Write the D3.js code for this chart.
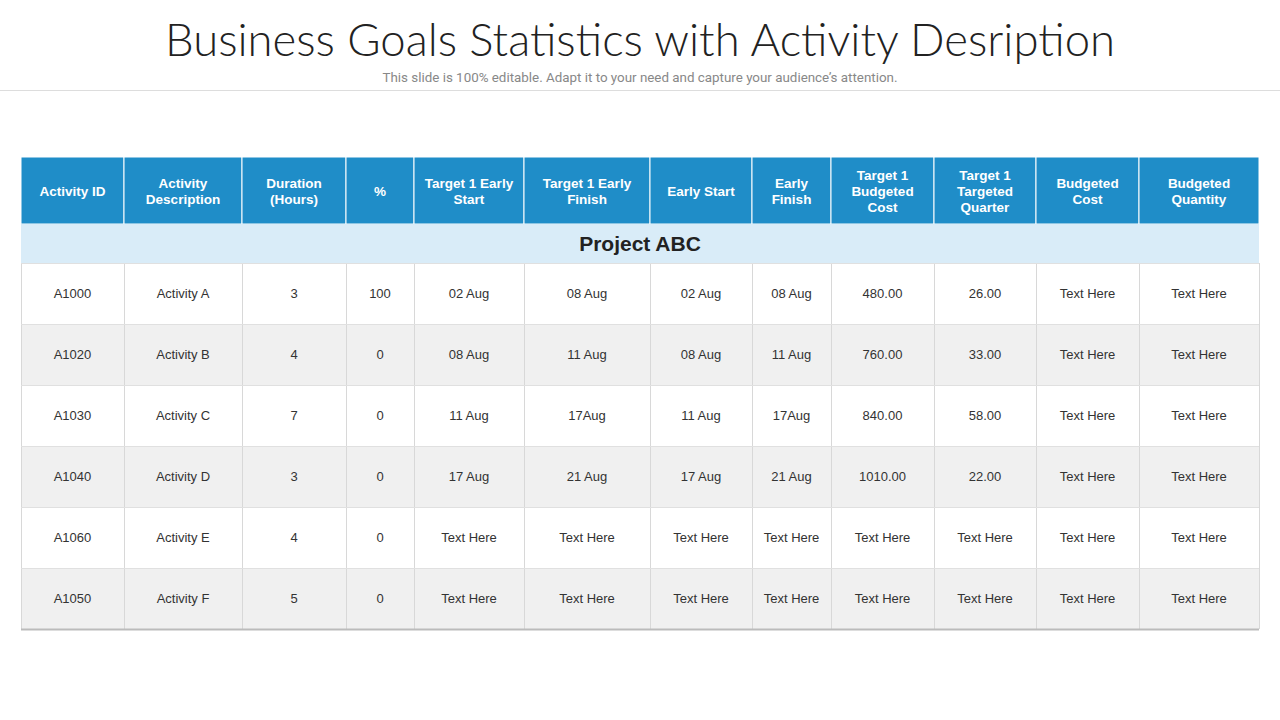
<!DOCTYPE html>
<html><head><meta charset="utf-8">
<script src="https://cdn.jsdelivr.net/npm/d3@7"></script>
<style>body{margin:0;background:#fff;}svg{display:block;}</style>
</head><body>
<script>
var headers = ["Activity  ID", "Activity\nDescription", "Duration\n(Hours)", "%", "Target 1 Early\nStart",
  "Target 1 Early\nFinish", "Early Start", "Early\nFinish", "Target 1\nBudgeted\nCost", "Target 1\nTargeted\nQuarter",
  "Budgeted\nCost", "Budgeted\nQuantity"];
var groupName = "Project ABC";
var ids = ["A1000", "A1020", "A1030", "A1040", "A1060", "A1050"];
var activities = ["Activity A", "Activity B", "Activity C", "Activity D", "Activity E", "Activity F"];
var durations = ["3", "4", "7", "3", "4", "5"];
var percents = ["100", "0", "0", "0", "0", "0"];
var t1Start = ["02 Aug", "08 Aug", "11 Aug", "17 Aug", "Text Here", "Text Here"];
var t1Finish = ["08 Aug", "11 Aug", "17Aug", "21 Aug", "Text Here", "Text Here"];
var earlyStart = ["02 Aug", "08 Aug", "11 Aug", "17 Aug", "Text Here", "Text Here"];
var earlyFinish = ["08 Aug", "11 Aug", "17Aug", "21 Aug", "Text Here", "Text Here"];
var t1Cost = ["480.00", "760.00", "840.00", "1010.00", "Text Here", "Text Here"];
var t1Quarter = ["26.00", "33.00", "58.00", "22.00", "Text Here", "Text Here"];
var budgetCost = ["Text Here", "Text Here", "Text Here", "Text Here", "Text Here", "Text Here"];
var budgetQty = ["Text Here", "Text Here", "Text Here", "Text Here", "Text Here", "Text Here"];

var columns = [ids, activities, durations, percents, t1Start, t1Finish, earlyStart, earlyFinish,
  t1Cost, t1Quarter, budgetCost, budgetQty];
var rows = ids.map(function(d, i) { return columns.map(function(c) { return c[i]; }); });

// layout
var colEdges = [21, 124, 242, 346, 414, 524, 650, 752, 831, 934, 1036, 1139, 1259];
var headTop = 157, headH = 67, groupH = 39, rowH = 61;

var svg = d3.select("body").append("svg").attr("width", 1280).attr("height", 720);

svg.append("text").attr("x", 640).attr("y", 56).attr("text-anchor", "middle")
  .attr("font-family", "Lato").attr("font-weight", 300).attr("font-size", 45).attr("fill", "#222")
  .attr("textLength", 950).attr("lengthAdjust", "spacingAndGlyphs")
  .text("Business Goals Statistics with Activity Desription");
svg.append("text").attr("x", 640).attr("y", 82).attr("text-anchor", "middle")
  .attr("font-family", "Roboto").attr("font-size", 13).attr("fill", "#888")
  .attr("textLength", 515).attr("lengthAdjust", "spacingAndGlyphs")
  .text("This slide is 100% editable. Adapt it to your need and capture your audience\u2019s attention.");
svg.append("line").attr("x1", 0).attr("x2", 1280).attr("y1", 90.5).attr("y2", 90.5).attr("stroke", "#ddd");

var x = function(i) { return colEdges[i]; };
var w = function(i) { return colEdges[i + 1] - colEdges[i]; };
var rowTop = headTop + headH + groupH;
var y = d3.scaleLinear().domain([0, rows.length]).range([rowTop, rowTop + rows.length * rowH]);

// header
var hd = svg.append("g");
headers.forEach(function(h, i) {
  hd.append("rect").attr("x", x(i)).attr("y", headTop).attr("width", w(i)).attr("height", headH)
    .attr("fill", "#1f8dc8").attr("stroke", "#fff").attr("stroke-width", 1);
  var lines = h.split("\n");
  var t = hd.append("text").attr("text-anchor", "middle").attr("font-family", "Liberation Sans")
    .attr("font-weight", "bold").attr("font-size", 13.5).attr("fill", "#fff");
  lines.forEach(function(l, k) {
    t.append("tspan").attr("x", x(i) + w(i) / 2)
      .attr("y", headTop + headH / 2 + 5 + (k - (lines.length - 1) / 2) * 16).text(l);
  });
});

// group row
svg.append("rect").attr("x", colEdges[0]).attr("y", headTop + headH).attr("width", colEdges[12] - colEdges[0])
  .attr("height", groupH).attr("fill", "#d9ecf8");
svg.append("text").attr("x", 640).attr("y", headTop + headH + 27).attr("text-anchor", "middle")
  .attr("font-family", "Liberation Sans").attr("font-weight", "bold").attr("font-size", 21).attr("fill", "#222")
  .text(groupName);

// body
var rg = svg.selectAll("g.row").data(rows).enter().append("g").attr("class", "row");
rg.append("rect").attr("x", colEdges[0]).attr("y", function(d, i) { return y(i); })
  .attr("width", colEdges[12] - colEdges[0]).attr("height", rowH)
  .attr("fill", function(d, i) { return i % 2 ? "#f0f0f0" : "#fff"; });
rg.each(function(r, i) {
  var g = d3.select(this);
  r.forEach(function(v, j) {
    g.append("text").attr("x", x(j) + w(j) / 2).attr("y", y(i) + rowH / 2 + 4).attr("text-anchor", "middle")
      .attr("font-family", "Liberation Sans").attr("font-size", 13).attr("fill", "#333").text(v);
  });
});
// grid lines
colEdges.forEach(function(cx) {
  svg.append("line").attr("x1", cx + 0.5).attr("x2", cx + 0.5).attr("y1", rowTop).attr("y2", y(rows.length))
    .attr("stroke", "#d8d8d8");
});
d3.range(rows.length + 1).forEach(function(i) {
  svg.append("line").attr("x1", colEdges[0]).attr("x2", colEdges[12]).attr("y1", y(i) + 0.5).attr("y2", y(i) + 0.5)
    .attr("stroke", i === rows.length ? "#bbb" : "#e0e0e0").attr("stroke-width", i === rows.length ? 2 : 1);
});
</script>
</body></html>
